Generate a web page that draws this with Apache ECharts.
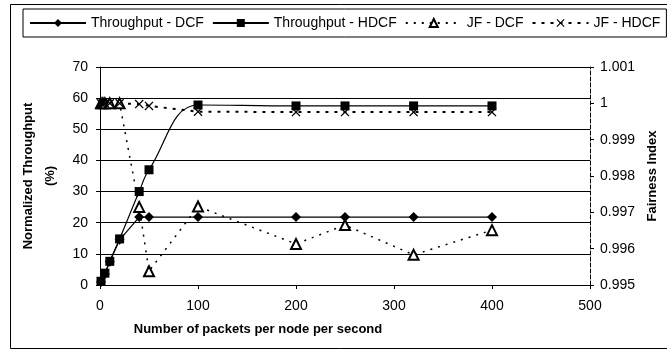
<!DOCTYPE html>
<html><head><meta charset="utf-8">
<script src="https://cdn.jsdelivr.net/npm/echarts@6/dist/echarts.min.js"></script>
<style>html,body{margin:0;padding:0;background:#fff}#c{width:667px;height:360px}</style>
</head><body><div id="c"></div>
<script>
const xDCF = [1, 5, 10, 20, 40, 50, 100, 200, 250, 320, 400];
const thrDCF = [1, 3.5, 7.5, 14.5, 21.8, 21.8, 21.8, 21.8, 21.8, 21.8, 21.8];
const xHDCF = [1, 5, 10, 20, 40, 50, 100, 200, 250, 320, 400];
const thrHDCF = [1.2, 3.8, 7.6, 14.8, 30, 37, 57.8, 57.5, 57.5, 57.5, 57.5];
const xJF = [1, 3, 5, 10, 20, 40, 50, 100, 200, 250, 320, 400];
const jfDCF = [1, 1, 1, 1, 1, 0.99715, 0.99538, 0.99716, 0.99613, 0.99665, 0.99583, 0.99651];
const jfHDCF = [1, 1, 1, 1, 1, 0.99998, 0.99993, 0.99977, 0.99976, 0.99976, 0.99976, 0.99976];
const xTicks = [0, 100, 200, 300, 400, 500];
const leftTicks = [0, 10, 20, 30, 40, 50, 60, 70];
const rightTicks = [0.995, 0.996, 0.997, 0.998, 0.999, 1, 1.001];

const pair = (xs, ys) => xs.map((x, i) => [x, ys[i]]);
const font = 'Liberation Sans, Arial, sans-serif';
const crossPath = 'path://M0,1 L1,0 L5,4 L9,0 L10,1 L6,5 L10,9 L9,10 L5,6 L1,10 L0,9 L4,5 Z';

const chart = echarts.init(document.getElementById('c'), null, {renderer: 'canvas'});
chart.setOption({
  animation: false,
  backgroundColor: '#fff',
  textStyle: {fontFamily: font},
  graphic: [{
    type: 'rect', shape: {x: 10.5, y: 4.5, width: 665, height: 344},
    style: {fill: 'none', stroke: '#000', lineWidth: 1}, silent: true, z: -1
  }],
  legend: {
    left: 23, top: 9, width: 660,
    padding: [7, 6, 7, 6],
    borderColor: '#000', borderWidth: 1,
    itemWidth: 56, itemHeight: 10, itemGap: 8,
    textStyle: {fontFamily: font, fontSize: 14, color: '#000'},
    data: ['Throughput - DCF', 'Throughput - HDCF', 'JF - DCF', 'JF - HDCF']
  },
  grid: {left: 100, right: 77, top: 67, bottom: 75, containLabel: false},
  xAxis: {
    type: 'value', min: 0, max: 500, interval: 100,
    name: 'Number of packets per node per second',
    nameLocation: 'middle', nameGap: 38,
    nameTextStyle: {fontFamily: font, fontSize: 13, fontWeight: 'bold', color: '#000', padding: [0, 174, 0, 0]},
    axisLine: {lineStyle: {color: '#000', width: 1}},
    axisTick: {show: true, length: 4, lineStyle: {color: '#000'}},
    axisLabel: {fontFamily: font, fontSize: 14, color: '#000', margin: 14},
    splitLine: {show: false}
  },
  yAxis: [{
    type: 'value', min: 0, max: 70, interval: 10, position: 'left',
    name: 'Normalized Throughput\n(%)',
    nameLocation: 'middle', nameGap: 38, nameRotate: 90,
    nameTextStyle: {fontFamily: font, fontSize: 13, fontWeight: 'bold', color: '#000', lineHeight: 22},
    axisLine: {show: true, lineStyle: {color: '#000', width: 1}},
    axisTick: {show: true, length: 4, lineStyle: {color: '#000'}},
    axisLabel: {fontFamily: font, fontSize: 14, color: '#000', margin: 12},
    splitLine: {show: true, lineStyle: {color: '#000', width: 1}}
  }, {
    type: 'value', min: 0.995, max: 1.001, interval: 0.001, position: 'right',
    name: 'Fairness Index',
    nameLocation: 'middle', nameGap: 55, nameRotate: 90,
    nameTextStyle: {fontFamily: font, fontSize: 13, fontWeight: 'bold', color: '#000'},
    axisLine: {show: true, lineStyle: {color: '#000', width: 1, type: [4, 2]}},
    axisTick: {show: true, length: 4, lineStyle: {color: '#000'}},
    axisLabel: {fontFamily: font, fontSize: 14, color: '#000', margin: 10,
      formatter: v => String(parseFloat(v.toFixed(3)))},
    splitLine: {show: false}
  }],
  series: [{
    name: 'Throughput - DCF', type: 'line', yAxisIndex: 0,
    data: pair(xDCF, thrDCF),
    symbol: 'diamond', symbolSize: 10,
    itemStyle: {color: '#000'},
    lineStyle: {color: '#000', width: 1.2}
  }, {
    name: 'Throughput - HDCF', type: 'line', yAxisIndex: 0, smooth: 0.4,
    data: pair(xHDCF, thrHDCF),
    symbol: 'rect', symbolSize: 9,
    itemStyle: {color: '#000'},
    lineStyle: {color: '#000', width: 1.2}
  }, {
    name: 'JF - DCF', type: 'line', yAxisIndex: 1,
    data: pair(xJF, jfDCF),
    symbol: 'emptyTriangle', symbolSize: 10,
    itemStyle: {color: '#000', borderWidth: 1.3},
    lineStyle: {color: '#000', width: 1.5, type: [2, 6]}
  }, {
    name: 'JF - HDCF', type: 'line', yAxisIndex: 1,
    data: pair(xJF, jfHDCF),
    symbol: crossPath, symbolSize: 9,
    itemStyle: {color: '#000'},
    lineStyle: {color: '#000', width: 2, type: [3, 6]}
  }]
});
</script></body></html>
